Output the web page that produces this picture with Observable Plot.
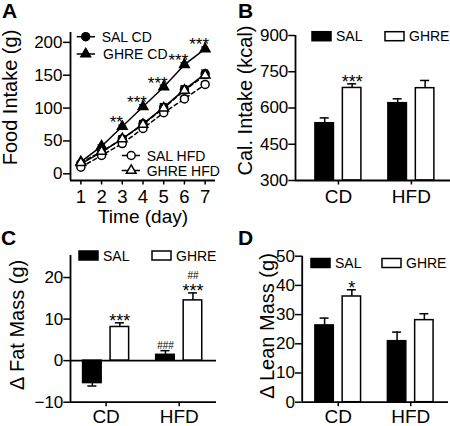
<!DOCTYPE html>
<html><head><meta charset="utf-8">
<script src="https://cdn.jsdelivr.net/npm/d3@7"></script>
<script src="https://cdn.jsdelivr.net/npm/@observablehq/plot@0.6"></script>
<style>
html,body{margin:0;padding:0;background:#fff;}
#fig{position:relative;width:450px;height:426px;overflow:hidden;background:#fff;}
.panel{position:absolute;}
.panel svg{overflow:visible;display:block;}
</style></head>
<body><div id="fig"></div>
<script>
// ---------- Panel A data ----------
const days = [1, 2, 3, 4, 5, 6, 7];
const salCD = [15, 33, 53, 76, 101, 128, 152];
const salCDErr = [2, 3, 5, 5, 6, 6, 6];
const ghreCD = [18, 42, 72, 102, 132, 166, 190];
const ghreCDErr = [1, 2, 2, 3, 3, 3, 3];
const salHFD = [10, 28, 46, 69, 93, 114, 136];
const salHFDErr = [1, 2, 3, 3, 4, 4, 4];
const ghreHFD = [17, 34, 53, 75, 100, 127, 150];
const ghreHFDErr = [1, 2, 3, 4, 5, 5, 5];
const ghreCDSig = ["", "", "**", "***", "***", "***", "***"];
const foodTicks = [0, 50, 100, 150, 200];
const seriesNames = ["SAL CD", "GHRE CD", "SAL HFD", "GHRE HFD"];

// ---------- Bar panels data ----------
const diets = ["CD", "HFD"];
const treatments = ["SAL", "GHRE"];
// B: caloric intake
const calSAL = [537, 620];
const calSALErr = [22, 18];
const calGHRE = [683, 682];
const calGHREErr = [17, 32];
const calGHRESig = ["***", ""];
const calTicks = [300, 450, 600, 750, 900];
// C: fat mass change
const fatSAL = [-5.4, 1.4];
const fatSALErr = [0.7, 1.0];
const fatGHRE = [8.1, 14.5];
const fatGHREErr = [1.0, 1.8];
const fatGHRESig = ["***", "***"];
const fatSALHash = ["", "###"];
const fatGHREHash = ["", "##"];
const fatTicks = [-10, 0, 10, 20];
// D: lean mass change
const leanSAL = [26.3, 20.9];
const leanSALErr = [2.5, 3.1];
const leanGHRE = [36.2, 28.1];
const leanGHREErr = [2.3, 2.2];
const leanGHRESig = ["*", ""];
const leanTicks = [0, 10, 20, 30, 40, 50];

// ---------- helpers ----------
const FONT = "'Liberation Sans', Arial, Helvetica, sans-serif";
const baseStyle = {fontFamily: FONT, color: "black", background: "transparent", overflow: "visible"};
const fig = document.getElementById("fig");
function place(node, left, top) {
  const div = document.createElement("div");
  div.className = "panel";
  div.style.left = left + "px";
  div.style.top = top + "px";
  div.appendChild(node);
  fig.appendChild(div);
}
function addText(g, x, y, size, str, weight) {
  return g.append("text").attr("x", x).attr("y", y)
    .attr("font-size", size).attr("font-weight", weight || "normal").attr("font-family", FONT)
    .attr("text-anchor", "start").attr("fill", "black").text(str);
}
function letter(svg, ch, x, y) {
  addText(d3.select(svg), x, y, 21, ch, "bold");
}

// ---------- Panel A ----------
const styleA = {
  "SAL CD": {symbol: "circle", fill: "black", dash: null},
  "GHRE CD": {symbol: "triangle", fill: "black", dash: null},
  "SAL HFD": {symbol: "circle", fill: "white", dash: "4,3"},
  "GHRE HFD": {symbol: "triangle", fill: "white", dash: "4,3"}
};
const valsA = [salCD, ghreCD, salHFD, ghreHFD];
const errsA = [salCDErr, ghreCDErr, salHFDErr, ghreHFDErr];
const rowsA = seriesNames.flatMap((s, j) => days.map((d, k) => ({
  day: d, v: valsA[j][k], e: errsA[j][k], s,
  sig: s === "GHRE CD" ? ghreCDSig[k] : ""
})));
const capA = 0.17;
const yMinA = -10.2;
const rCirc = 4, rTri = 3.6;

const plotA = Plot.plot({
  width: 225, height: 232,
  marginLeft: 70, marginRight: 10, marginTop: 32, marginBottom: 52,
  x: {domain: [0.5, 7.5]},
  y: {domain: [yMinA, 215]},
  style: baseStyle,
  marks: [
    ...seriesNames.map(s => Plot.lineY(rowsA.filter(d => d.s === s), {
      x: "day", y: "v", stroke: "black", strokeWidth: 1.5,
      strokeDasharray: styleA[s].dash || undefined
    })),
    Plot.ruleX(rowsA, {x: "day", y1: d => d.v - d.e, y2: d => d.v + d.e, strokeWidth: 1.2}),
    Plot.ruleY(rowsA, {y: d => d.v + d.e, x1: d => d.day - capA, x2: d => d.day + capA, strokeWidth: 1.2}),
    Plot.ruleY(rowsA, {y: d => d.v - d.e, x1: d => d.day - capA, x2: d => d.day + capA, strokeWidth: 1.2}),
    ...seriesNames.map(s => Plot.dot(rowsA.filter(d => d.s === s), {
      x: "day", y: "v", symbol: styleA[s].symbol, r: styleA[s].symbol === "circle" ? rCirc : rTri,
      fill: styleA[s].fill, stroke: "black", strokeWidth: 1.5
    })),
    Plot.text(rowsA.filter(d => d.sig), {x: "day", y: "v", text: "sig", dx: -6, dy: 1.5,
      lineAnchor: "bottom", fontSize: 17}),
    Plot.ruleX([0.5], {strokeWidth: 1.8}),
    Plot.ruleY([yMinA], {strokeWidth: 1.8}),
    Plot.axisY(foodTicks, {anchor: "left", tickSize: 7, tickPadding: 1, fontSize: 17, label: null, strokeWidth: 1.5}),
    Plot.axisX(days, {anchor: "bottom", tickSize: 4.5, tickPadding: 4.5, fontSize: 18.5, label: null, strokeWidth: 1.5}),
    Plot.text(["Food Intake (g)"], {text: d => d, frameAnchor: "left", rotate: -90, dx: -60, dy: -9,
      fontSize: 20, textAnchor: "middle", lineAnchor: "middle"}),
    Plot.text(["Time (day)"], {text: d => d, frameAnchor: "bottom", dy: 42, lineAnchor: "bottom", fontSize: 19})
  ]
});
// legend A
(function () {
  const lay = [
    {lx1: 76.7, lx2: 95, mx: 85.7, y: 36.7, tx: 101.7},
    {lx1: 76.7, lx2: 95, mx: 85.7, y: 54, tx: 103},
    {lx1: 121.7, lx2: 140, mx: 131.2, y: 155.5, tx: 146.7},
    {lx1: 121.7, lx2: 140, mx: 131.2, y: 170.5, tx: 146.7}
  ];
  const g = d3.select(plotA).append("g");
  seriesNames.forEach((s, i) => {
    const L = lay[i], st = styleA[s];
    g.append("line").attr("x1", L.lx1).attr("x2", L.lx2).attr("y1", L.y).attr("y2", L.y)
      .attr("stroke", "black").attr("stroke-width", 1.5);
    const r = st.symbol === "circle" ? rCirc : rTri;
    const sym = st.symbol === "circle" ? d3.symbolCircle : d3.symbolTriangle;
    g.append("path").attr("d", d3.symbol(sym, Math.PI * r * r)())
      .attr("transform", `translate(${L.mx},${L.y})`)
      .attr("fill", st.fill).attr("stroke", "black").attr("stroke-width", 1.5);
    addText(g, L.tx, L.y + 5, 14, s);
  });
})();
letter(plotA, "A", 2, 18);

// ---------- Bar panel factory ----------
const OFF = 0.188, HW = 0.127, CAP = 0.062;
function barPanel(o) {
  const rows = diets.flatMap((g, i) => [
    {i, t: treatments[0], v: o.sal[i], e: o.salErr[i], sig: o.salSig ? o.salSig[i] : "", hash: o.salHash ? o.salHash[i] : ""},
    {i, t: treatments[1], v: o.ghre[i], e: o.ghreErr[i], sig: o.ghreSig ? o.ghreSig[i] : "", hash: o.ghreHash ? o.ghreHash[i] : ""}
  ]);
  rows.forEach(d => {
    d.pos = d.i + (d.t === "SAL" ? -OFF : OFF);
    d.tip = d.v + (d.v < 0 ? -d.e : d.e);
  });
  const yMin = o.yDomain[0];
  const marks = [
    Plot.rectY(rows.filter(d => d.t === "SAL"), {x1: d => d.pos - HW, x2: d => d.pos + HW, y1: o.base, y2: "v",
      fill: "black", stroke: "black", strokeWidth: 1.5}),
    Plot.rectY(rows.filter(d => d.t === "GHRE"), {x1: d => d.pos - HW, x2: d => d.pos + HW, y1: o.base, y2: "v",
      fill: "white", stroke: "black", strokeWidth: 1.5}),
    Plot.ruleX(rows, {x: "pos", y1: "v", y2: "tip", strokeWidth: 1.5}),
    Plot.ruleY(rows, {y: "tip", x1: d => d.pos - CAP, x2: d => d.pos + CAP, strokeWidth: 1.5}),
    Plot.text(rows.filter(d => d.sig), {x: "pos", y: "tip", text: "sig", dy: 4, lineAnchor: "bottom", fontSize: 18}),
    Plot.text(rows.filter(d => d.hash && !d.sig), {x: "pos", y: "tip", text: "hash", dy: -1.5, lineAnchor: "bottom", fontSize: 10}),
    Plot.text(rows.filter(d => d.hash && d.sig), {x: "pos", y: "tip", text: "hash", dy: -13.5, lineAnchor: "bottom", fontSize: 10}),
    Plot.ruleX([o.xDomain[0]], {strokeWidth: 1.8}),
    Plot.ruleY([yMin], {strokeWidth: 1.8}),
    Plot.axisY(o.ticks, {anchor: "left", tickSize: 6.7, tickPadding: 0.5, fontSize: 17, label: null, strokeWidth: 1.5}),
    Plot.axisX([0, 1], {anchor: "bottom", tickSize: 4.5, tickPadding: o.xPad, fontSize: 19, label: null,
      tickFormat: i => diets[i], strokeWidth: 1.5}),
    Plot.text([o.yLabel], {text: d => d, frameAnchor: "left", rotate: -90, dx: o.tdx, dy: o.tdy,
      fontSize: 20, textAnchor: "middle", lineAnchor: "middle"})
  ];
  if (o.zeroLine) marks.push(Plot.ruleY([0], {strokeWidth: 1.8}));
  const svg = Plot.plot({
    width: 225, height: 213,
    marginLeft: o.ml, marginRight: o.mr, marginTop: o.mt, marginBottom: o.mb,
    x: {domain: o.xDomain}, y: {domain: o.yDomain},
    style: baseStyle,
    marks
  });
  // legend
  const g = d3.select(svg).append("g");
  [[o.leg.x1, "black", treatments[0]], [o.leg.x2, "white", treatments[1]]].forEach(([x, fill, label]) => {
    g.append("rect").attr("x", x).attr("y", o.leg.y - 4.5).attr("width", 19).attr("height", 9)
      .attr("fill", fill).attr("stroke", "black").attr("stroke-width", 1.5);
    addText(g, x + 24, o.leg.y + 5, 14, label);
  });
  letter(svg, o.letter, o.lx, o.ly);
  return svg;
}

const plotB = barPanel({
  sal: calSAL, salErr: calSALErr, ghre: calGHRE, ghreErr: calGHREErr, ghreSig: calGHRESig,
  ticks: calTicks, yDomain: [300, 900], xDomain: [-0.588, 1.536], base: 300, xPad: 4,
  ml: 70, mr: 0, mt: 35, mb: 33, yLabel: "Cal. Intake (kcal)", tdx: -50, tdy: -7.5,
  leg: {x1: 87, x2: 160, y: 36.2}, letter: "B", lx: 13, ly: 18
});
const plotC = barPanel({
  sal: fatSAL, salErr: fatSALErr, ghre: fatGHRE, ghreErr: fatGHREErr, ghreSig: fatGHRESig,
  salHash: fatSALHash, ghreHash: fatGHREHash,
  ticks: fatTicks, yDomain: [-10, 25.3], xDomain: [-0.487, 1.51], base: 0, zeroLine: true, xPad: 3,
  ml: 70, mr: 9, mt: 42, mb: 24.3, yLabel: "\u0394 Fat Mass (g)", tdx: -53, tdy: -4,
  leg: {x1: 79, x2: 152, y: 42.5}, letter: "C", lx: 1, ly: 31.7
});
const plotD = barPanel({
  sal: leanSAL, salErr: leanSALErr, ghre: leanGHRE, ghreErr: leanGHREErr, ghreSig: leanGHRESig,
  ticks: leanTicks, yDomain: [0, 50], xDomain: [-0.497, 1.521], base: 0, xPad: 3,
  ml: 76.7, mr: 2, mt: 42.7, mb: 24.3, yLabel: "\u0394 Lean Mass (g)", tdx: -34.7, tdy: -3.2,
  leg: {x1: 86, x2: 157, y: 50}, letter: "D", lx: 13, ly: 31.7
});

place(plotA, 0, 0);
place(plotB, 225, 0);
place(plotC, 0, 213);
place(plotD, 225, 213);
</script>
</body></html>
